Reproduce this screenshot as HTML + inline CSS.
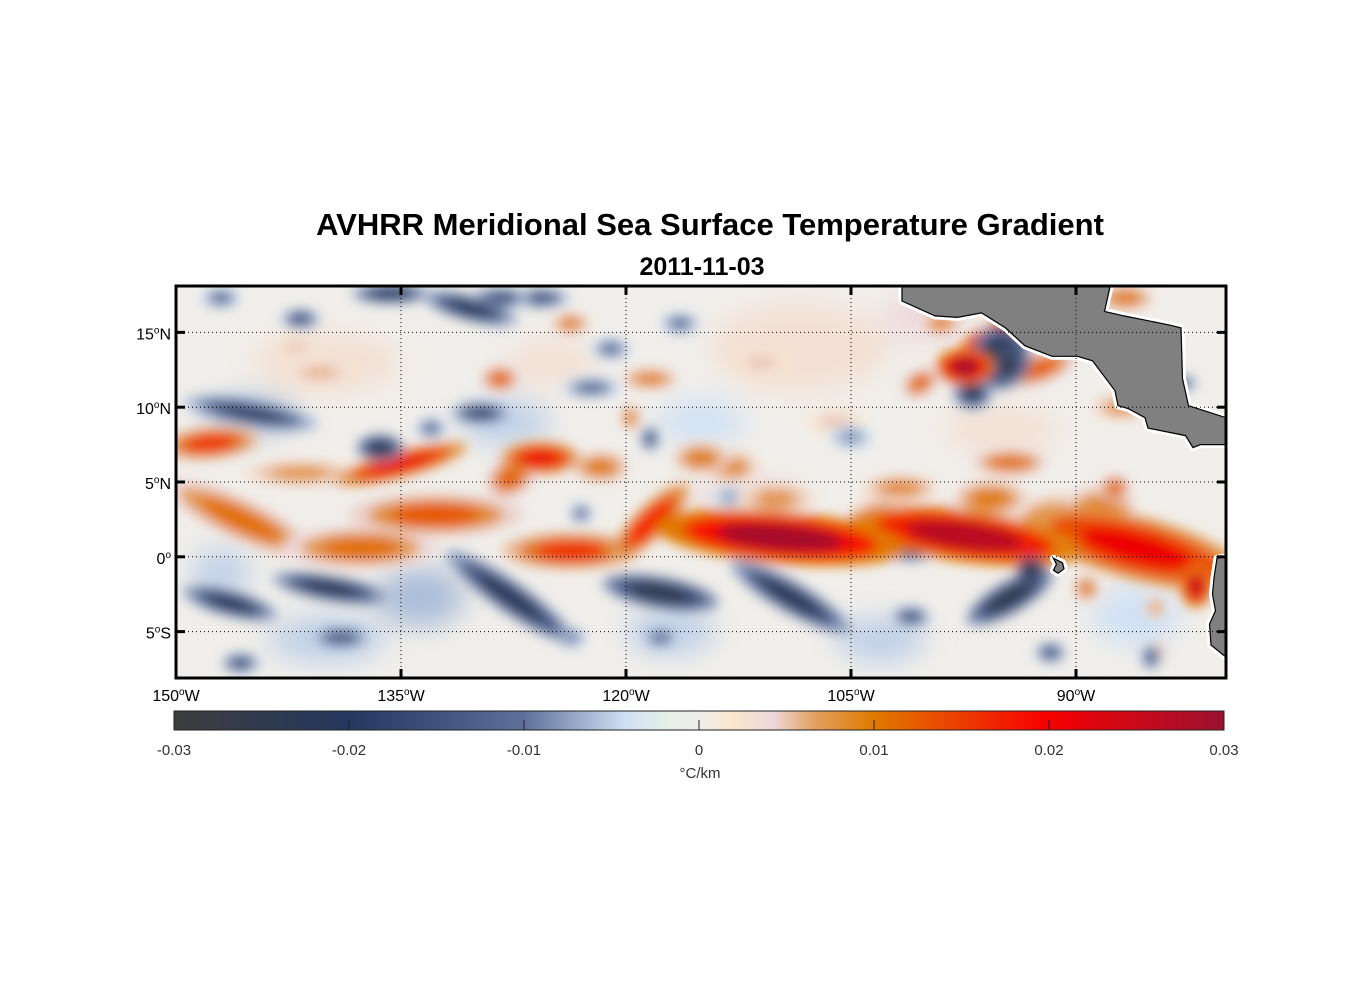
<!DOCTYPE html>
<html><head><meta charset="utf-8"><style>
body{margin:0;background:#fff;width:1356px;height:1000px;overflow:hidden;font-family:"Liberation Sans",Arial,sans-serif}
svg text{font-family:"Liberation Sans",Arial,sans-serif}
</style></head><body>
<svg id="chart" width="1356" height="1000" viewBox="0 0 1356 1000" xmlns="http://www.w3.org/2000/svg">
<defs>
<clipPath id="mapclip"><rect x="176" y="286" width="1050" height="392"/></clipPath>
<filter id="blur" x="-10%" y="-10%" width="120%" height="120%"><feGaussianBlur stdDeviation="6"/></filter>
<filter id="blur2" x="-10%" y="-10%" width="120%" height="120%"><feGaussianBlur stdDeviation="14"/></filter>
<linearGradient id="cbgrad" x1="0" x2="1" y1="0" y2="0"></linearGradient>
</defs>
<text x="710" y="235" font-size="31" font-weight="bold" text-anchor="middle">AVHRR Meridional Sea Surface Temperature Gradient</text>
<text x="702" y="275" font-size="25" font-weight="bold" text-anchor="middle">2011-11-03</text>
<g id="field" clip-path="url(#mapclip)">
<rect x="176" y="286" width="1050" height="392" fill="#f1efeb"/>
<g id="bg" filter="url(#blur2)"></g>
<g id="blobs" filter="url(#blur)"></g>
</g>
<g id="land" clip-path="url(#mapclip)"></g>
<g id="grid"></g>
<rect x="176" y="286" width="1050" height="392" fill="none" stroke="#000" stroke-width="3"/>
<g id="ticks"></g>
<g id="colorbar"></g>
</svg>
<script>
const cmapStops = [0,0.167,0.333,0.43,0.47,0.5,0.53,0.57,0.61,0.667,0.83,1];
const cmapColors = ["#3d3d3d","#24375f","#5e6f9a","#cfe0f5","#e6efe8","#eeeeee","#fbe8cc","#ecd8dc","#e3a060","#e07a00","#f80000","#9b1230"];
const lonMin=-150, lonMax=-80, latMin=-8.1, latMax=18.1;
const lonTicks=[-150,-135,-120,-105,-90];
const lonTickLabels=["150","135","120","105","90"];
const latTicks=[15,10,5,0,-5];
const latTickLabels=["15","10","5","0","5"];
const latTickSuffix=["N","N","N","","S"];
const cbTicks=[-0.03,-0.02,-0.01,0,0.01,0.02,0.03];
const cbTickLabels=["-0.03","-0.02","-0.01","0","0.01","0.02","0.03"];
// broad pale background patches
const bgLon=[-133.7,-140,-117,-103,-86,-108.4,-140,-145,-128,-95,-115,-125,-147,-100,-112];
const bgLat=[-2.7,-5.5,-5,-5.5,-4,14,13,9.5,9,8.5,9,13,-1,16,4];
const bgRx=[3,4,3,3,3,6,5,3,3,4,3,3,2,3,4];
const bgRy=[2,1.5,1.5,1.5,2,3,2,1.2,1.5,1.5,1.5,1.5,1.5,1.5,1];
const bgValue=[-0.006,-0.005,-0.005,-0.005,-0.004,0.003,0.003,-0.006,-0.005,0.003,-0.004,0.003,-0.005,0.004,0.004];
// features
const blobLon=[-145.7,-137.7,-132.7,-123.7,-118.4,-109.7,-97.4,-86,-82,-88.4,-87.4,-147.7,-141.7,-135,-125.7,-127.7,-121.7,-115,-113,-101.7,-94.4,-97.4,-96,-94.4,-95,-94.5,-96.9,-92.4,-100.4,-99,-86.7,-87,-83,-123.7,-128.4,-118.4,-140.4,-119.7,-135.7,-130.4,-128.4,-141.7,-147,-145,-136.4,-129.7,-121,-125.7,-116.4,-122.3,-133,-118.4,-123,-146.4,-139.7,-127.7,-117.7,-109,-94.4,-93,-101,-145.7,-139,-123.7,-117.7,-101,-91.7,-85,-89.3,-84.7,-84.7,-106,-111,-131,-142,-113,-105,-95.7,-110,-91,-103];
const blobLat=[2.5,0.6,2.8,0.4,2.3,1.3,1.4,0.6,-2,3,4.6,7.6,5.6,6.2,6.6,5.3,6,6.6,6,4.6,6.3,12.7,14.6,15.6,13.3,12.8,10.9,12.6,11.6,15.6,17.3,10,11.6,15.6,11.9,11.9,12.3,9.3,17.6,16.6,17.3,15.9,17.3,9.6,7.3,9.6,13.9,17.3,15.6,11.3,8.6,7.9,2.9,-3.1,-2.1,-2.7,-2.4,-2.7,-2.7,-0.9,0.2,-7.1,-5.4,-5.4,-5.4,-4,-6.4,-6.7,-2.1,-3.4,-6.4,9,13,3.5,14,4,8,3.9,3.9,2.5,3];
const blobRx=[4.5,4,4.5,3.5,2.7,6.5,6,6,0.8,2,0.8,2.5,3,3.5,2,1,1.5,1.5,1.5,2,2,1.5,0.5,1,1.5,0.7,1,2,1,1,1.5,1.5,0.4,1,1,1.5,2,0.5,2,2.5,1.5,1,1,3.5,1.2,1.5,1,1.5,1,1.5,0.8,0.5,0.6,2.5,3,4,3,3.5,2.5,0.7,1.2,1,1.5,0.8,1,1,0.8,0.5,0.7,0.5,0.5,1.5,1.5,1.2,1.2,1,1.2,2,2,2.5,1.5];
const blobRy=[0.8,0.8,0.8,0.7,0.6,1,1,1.2,0.8,1,0.5,0.6,0.5,0.5,0.6,1,0.6,0.6,0.6,0.5,0.5,0.7,1,0.4,1.2,0.6,0.6,0.6,0.5,0.4,0.5,0.5,0.6,0.4,0.5,0.4,0.4,0.5,0.4,0.5,0.4,0.4,0.4,0.5,0.5,0.4,0.4,0.4,0.4,0.4,0.4,0.5,0.4,0.5,0.5,0.6,0.6,0.6,0.6,0.5,0.3,0.4,0.4,0.4,0.4,0.4,0.4,0.5,0.5,0.4,0.4,0.5,0.5,0.4,0.4,0.4,0.5,0.7,0.6,1,0.6];
const blobAngle=[25,0,0,0,-45,5,8,15,0,0,0,-5,0,-15,0,60,0,0,0,0,0,0,70,0,0,0,0,-20,-30,0,0,0,90,0,0,0,0,0,0,15,0,0,0,10,0,0,0,0,0,0,0,0,0,15,10,35,10,30,-30,0,0,0,0,0,0,0,0,0,0,0,0,0,0,0,0,0,0,0,0,0,0];
const blobValue=[0.011,0.011,0.013,0.016,0.019,0.029,0.027,0.021,0.025,0.01,0.012,0.016,0.008,0.021,0.021,0.012,0.01,0.01,0.009,0.009,0.011,0.029,0.026,0.026,-0.027,-0.03,-0.02,0.012,0.012,0.01,0.01,0.008,-0.016,0.01,0.012,0.01,0.006,0.01,-0.02,-0.02,-0.016,-0.015,-0.012,-0.018,-0.023,-0.018,-0.012,-0.015,-0.012,-0.012,-0.012,-0.015,-0.012,-0.021,-0.022,-0.022,-0.025,-0.022,-0.025,-0.03,-0.015,-0.015,-0.015,-0.012,-0.012,-0.015,-0.015,-0.015,0.01,0.008,0.01,0.005,0.005,-0.008,0.005,-0.008,-0.008,0.01,0.008,0.009,0.007];
const landCentralAmerica=[[-101.6,18.2],[-101.6,17.1],[-99.4,16.1],[-97.9,16],[-96.3,16.3],[-94.7,15.3],[-93.4,14.1],[-91.6,13.4],[-89.9,13.4],[-88.9,13.1],[-87.4,11.1],[-87.2,10.1],[-86.5,9.9],[-85.4,9.3],[-85.2,8.6],[-82.7,8.1],[-82.2,7.3],[-81.7,7.5],[-80,7.5],[-80,9.3],[-82.5,10.1],[-82.9,11.9],[-83,15.3],[-83.8,15.5],[-86.8,16.1],[-88.1,16.4],[-87.7,18.2]];
const landSouthAmerica=[[-80,0],[-80.6,-0.1],[-80.8,-1.4],[-80.9,-2.5],[-80.7,-3.6],[-81.1,-4.5],[-81,-5.9],[-80,-6.7]];
const landGalapagos=[[-91.5,-0.1],[-90.9,-0.4],[-90.8,-0.8],[-91.2,-1.1],[-91.5,-0.9],[-91.3,-0.5]];

const X=lon=>176+(lon-lonMin)/(lonMax-lonMin)*1050;
const Y=lat=>286+(latMax-lat)/(latMax-latMin)*392;
const NS="http://www.w3.org/2000/svg";
function hex(c){return [1,3,5].map(i=>parseInt(c.substr(i,2),16));}
function cmap(v){
  let t=(v+0.03)/0.06; t=Math.max(0,Math.min(1,t));
  for(let i=0;i<cmapStops.length-1;i++){
    if(t<=cmapStops[i+1]){const f=(t-cmapStops[i])/(cmapStops[i+1]-cmapStops[i]);
      const a=hex(cmapColors[i]),b=hex(cmapColors[i+1]);
      return "rgb("+a.map((x,k)=>Math.round(x+(b[k]-x)*f)).join(",")+")";}
  }
  return cmapColors[cmapColors.length-1];
}
function mk(tag,attrs,parent){const e=document.createElementNS(NS,tag);for(const k in attrs)e.setAttribute(k,attrs[k]);parent.appendChild(e);return e;}

const grad=document.getElementById('cbgrad');
cmapStops.forEach((s,i)=>mk('stop',{offset:s,'stop-color':cmapColors[i]},grad));

const sx=1050/(lonMax-lonMin), sy=392/(latMax-latMin);
const bg=document.getElementById('bg');
bgValue.forEach((v,i)=>{
  const e=mk('ellipse',{cx:X(bgLon[i]),cy:Y(bgLat[i]),rx:bgRx[i]*sx,ry:bgRy[i]*sy,fill:cmap(v)},bg);
  
  
});

const blobs=document.getElementById('blobs');
const order=blobValue.map((v,i)=>i).sort((a,b)=>Math.abs(blobValue[a])-Math.abs(blobValue[b]));
order.forEach(i=>{
  const cx=X(blobLon[i]), cy=Y(blobLat[i]);
  const g=mk('g',{transform:`translate(${cx},${cy}) rotate(${blobAngle[i]})`},blobs);
  
  
  [[1.3,0.35],[1.0,0.65],[0.65,1]].forEach(([s,f])=>{
    mk('ellipse',{cx:0,cy:0,rx:blobRx[i]*sx*s,ry:blobRy[i]*sy*s*1.35,fill:cmap(blobValue[i]*f)},g);
  });
});

const land=document.getElementById('land');
[landCentralAmerica,landSouthAmerica,landGalapagos].forEach((poly,k)=>{
  const pts=poly.map(p=>X(p[0]).toFixed(1)+","+Y(p[1]).toFixed(1)).join(" ");
  mk('polygon',{points:pts,fill:"#fff",stroke:"#fff","stroke-width":7,"stroke-linejoin":"round"},land);
  const p=mk('polygon',{points:pts,fill:"#808080",stroke:"#000","stroke-width":1.2},land);
  
  
});

const grid=document.getElementById('grid'), ticks=document.getElementById('ticks');
lonTicks.forEach((lon,i)=>{
  const x=X(lon);
  if(i>0) mk('line',{x1:x,x2:x,y1:286,y2:678,stroke:"#000","stroke-width":1,"stroke-dasharray":"1,3"},grid);
  mk('line',{x1:x,x2:x,y1:286,y2:295,stroke:"#000","stroke-width":3},ticks);
  mk('line',{x1:x,x2:x,y1:669,y2:678,stroke:"#000","stroke-width":3},ticks);
  const t=mk('text',{x:x,y:701,"font-size":16,"text-anchor":"middle"},ticks);
  
  
  t.innerHTML=lonTickLabels[i]+'<tspan dy="-6" font-size="10">o</tspan><tspan dy="6">W</tspan>';
});
latTicks.forEach((lat,i)=>{
  const y=Y(lat);
  mk('line',{x1:176,x2:1226,y1:y,y2:y,stroke:"#000","stroke-width":1,"stroke-dasharray":"1,3"},grid);
  mk('line',{x1:176,x2:185,y1:y,y2:y,stroke:"#000","stroke-width":3},ticks);
  mk('line',{x1:1217,x2:1226,y1:y,y2:y,stroke:"#000","stroke-width":3},ticks);
  const t=mk('text',{x:171,y:y+7,"font-size":16,"text-anchor":"end"},ticks);
  
  
  t.innerHTML=latTickLabels[i]+'<tspan dy="-6" font-size="10">o</tspan><tspan dy="6">'+latTickSuffix[i]+'</tspan>';
});

const cb=document.getElementById('colorbar');
mk('rect',{x:174,y:711,width:1050,height:19,fill:"url(#cbgrad)",stroke:"#222","stroke-width":1},cb);
cbTicks.forEach((v,i)=>{
  const x=174+(v+0.03)/0.06*1050;
  if(i>0&&i<cbTicks.length-1) mk('line',{x1:x,x2:x,y1:720,y2:730,stroke:"#222","stroke-width":1},cb);
  const t=mk('text',{x:x,y:755,"font-size":15,"text-anchor":"middle",fill:"#333"},cb);
  
  
  t.textContent=cbTickLabels[i];
});
const u=mk('text',{x:700,y:778,"font-size":15,"text-anchor":"middle",fill:"#333"},cb);


u.textContent="°C/km";
</script>
</body></html>
